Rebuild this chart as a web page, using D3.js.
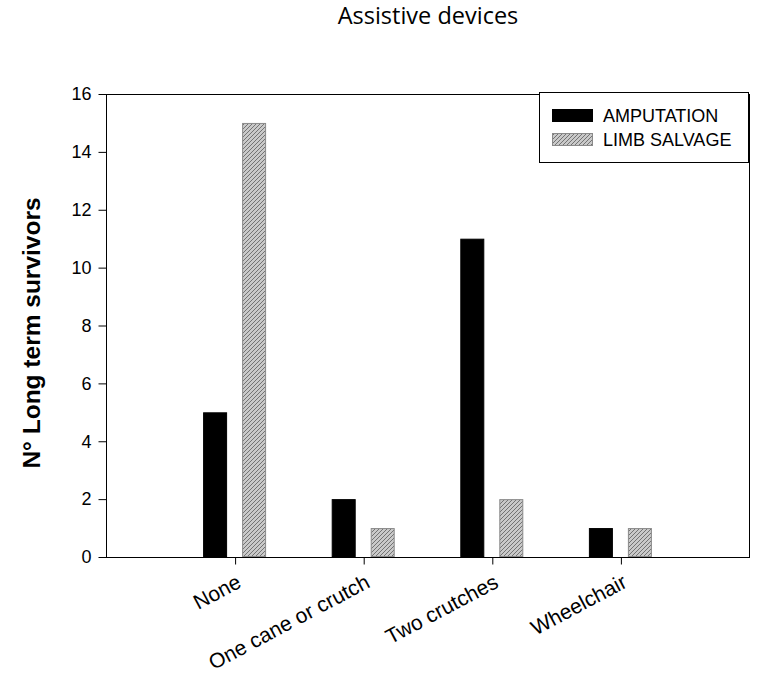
<!DOCTYPE html>
<html>
<head>
<meta charset="utf-8">
<script src="https://cdn.jsdelivr.net/npm/d3@7/dist/d3.min.js"></script>
<style>
  body { margin: 0; background: #fff; }
  svg { display: block; }
  text { font-family: "Liberation Sans", Arial, sans-serif; fill: #000; }
</style>
</head>
<body>
<script>
const categories = ["None", "One cane or crutch", "Two crutches", "Wheelchair"];
const seriesNames = ["AMPUTATION", "LIMB SALVAGE"];
const amputation = [5, 2, 11, 1];
const limbSalvage = [15, 1, 2, 1];
const yTicks = [0, 2, 4, 6, 8, 10, 12, 14, 16];
const title = "Assistive devices";
const yLabel = "N° Long term survivors";

const W = 762, H = 679;
const plot = { left: 106, right: 749, top: 94, bottom: 557 };

const svg = d3.select("body").append("svg").attr("width", W).attr("height", H);

const defs = svg.append("defs");
const pat = defs.append("pattern")
  .attr("id", "hatch").attr("patternUnits", "userSpaceOnUse")
  .attr("width", 4).attr("height", 4);
pat.append("rect").attr("width", 4).attr("height", 4).attr("fill", "#c9c9c9");
pat.append("path").attr("d", "M-1,1 l2,-2 M0,4 l4,-4 M3,5 l2,-2")
  .attr("stroke", "#737373").attr("stroke-width", 1);

const x = d3.scalePoint().domain(categories).range([plot.left, plot.right]).padding(1);
const inner = d3.scaleBand().domain(seriesNames).range([-31.5, 31.5]).paddingInner(15 / 39).paddingOuter(0);
const y = d3.scaleLinear().domain([0, 16]).range([plot.bottom, plot.top]);

const data = seriesNames.map((s, i) => ({
  name: s,
  values: (i === 0 ? amputation : limbSalvage).map((v, j) => ({ cat: categories[j], v }))
}));
const fills = { "AMPUTATION": "#000", "LIMB SALVAGE": "url(#hatch)" };
const strokes = { "AMPUTATION": "#000", "LIMB SALVAGE": "#8a8a8a" };

const g = svg.append("g");
data.forEach(s => {
  g.selectAll(null).data(s.values).enter().append("rect")
    .attr("x", d => x(d.cat) + inner(s.name) + 0.5)
    .attr("y", d => y(d.v) + 0.5)
    .attr("width", inner.bandwidth() - 1)
    .attr("height", d => y(0) - y(d.v) - 1)
    .attr("fill", fills[s.name])
    .attr("stroke", strokes[s.name])
    .attr("stroke-width", 1);
});

svg.append("rect")
  .attr("x", plot.left + 0.5).attr("y", plot.top + 0.5)
  .attr("width", plot.right - plot.left).attr("height", plot.bottom - plot.top)
  .attr("fill", "none").attr("stroke", "#000").attr("stroke-width", 1);

const yAxis = svg.append("g").attr("transform", `translate(${plot.left + 0.5},0)`)
  .call(d3.axisLeft(y).tickValues(yTicks).tickSize(8).tickPadding(7).tickFormat(d3.format("d")));
yAxis.select(".domain").remove();
yAxis.selectAll("text").style("font-size", "18px").style("font-family", "Liberation Sans, Arial, sans-serif");

const xAxis = svg.append("g").attr("transform", `translate(0.5,${plot.bottom + 0.5})`)
  .call(d3.axisBottom(x).tickSize(7).tickFormat(""));
xAxis.select(".domain").remove();
xAxis.selectAll(".tick").append("text")
  .attr("text-anchor", "end")
  .attr("transform", "translate(7,29) rotate(-28)")
  .style("font-size", "21px")
  .style("font-family", "Liberation Sans, Arial, sans-serif")
  .attr("fill", "#000")
  .text(d => d);

svg.append("text").attr("x", 428).attr("y", 24).attr("text-anchor", "middle")
  .style("font-size", "23.5px").style("font-family", "Open Sans, sans-serif").text(title);

svg.append("text").attr("transform", `translate(40,333) rotate(-90)`)
  .attr("text-anchor", "middle").style("font-size", "24.5px").style("font-weight", "bold")
  .text(yLabel);

const lg = svg.append("g");
lg.append("rect").attr("x", 539.5).attr("y", 92.5).attr("width", 209).attr("height", 70)
  .attr("fill", "#fff").attr("stroke", "#000").attr("stroke-width", 1);
seriesNames.forEach((s, i) => {
  const yy = 109 + i * 24;
  lg.append("rect").attr("x", 552.5).attr("y", yy + 0.5).attr("width", 40).attr("height", 12)
    .attr("fill", fills[s]).attr("stroke", strokes[s]);
  lg.append("text").attr("x", 603).attr("y", yy + 13).style("font-size", "18px").text(s);
});
</script>
</body>
</html>
